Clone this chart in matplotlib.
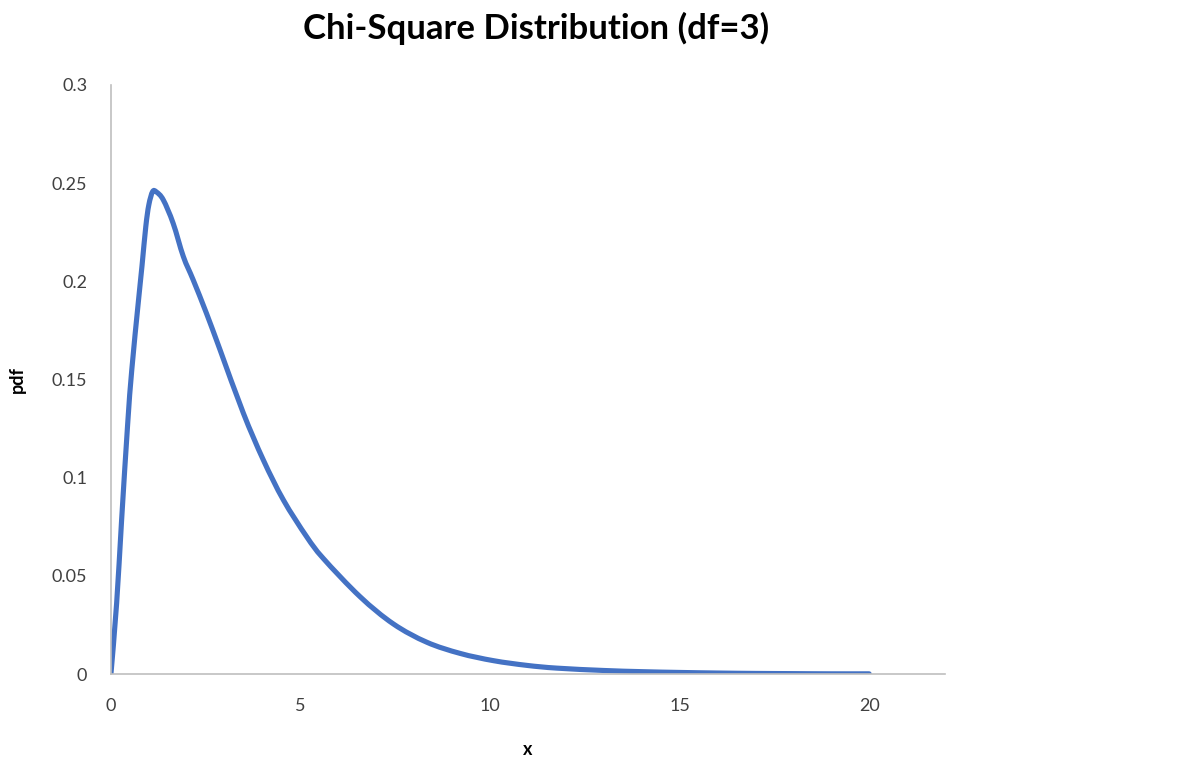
import matplotlib
matplotlib.use("Agg")
import matplotlib.pyplot as plt
from matplotlib.path import Path
from matplotlib.patches import PathPatch

# Values
x_vals = [0, 0.15, 0.28, 0.44, 0.55, 0.72, 0.82, 0.92, 1.0, 1.1, 1.2, 1.38, 1.64,
          1.91, 2.17, 2.52, 2.88, 3.49, 4.02, 4.55, 5.16, 5.6, 6.57, 7.45, 8.33,
          9.21, 10.09, 10.97, 11.76, 13, 14, 15, 16, 17, 18, 19, 20]
pdf_vals = [0, 0.036, 0.078, 0.127, 0.155, 0.189, 0.208, 0.228, 0.239, 0.2457,
            0.2455, 0.2415, 0.2296, 0.2126, 0.2007, 0.1837, 0.165, 0.133, 0.109,
            0.0886, 0.070, 0.0589, 0.0394, 0.0255, 0.0162, 0.0105, 0.0068, 0.0044,
            0.0030, 0.0018, 0.0012, 0.0008, 0.0005, 0.0003, 0.0002, 0.0001, 0.0001]
x_ticks = [0, 5, 10, 15, 20]
y_ticks = [0, 0.05, 0.1, 0.15, 0.2, 0.25, 0.3]
y_tick_labels = ["0", "0.05", "0.1", "0.15", "0.2", "0.25", "0.3"]
title = "Chi-Square Distribution (df=3)"

plt.rcParams['font.family'] = ['Lato', 'DejaVu Sans']


def smooth_path(xs, ys, tension=1.0 / 6.0):
    """Smoothed line (Excel-style) through the data points as cubic Bezier segments."""
    pts = list(zip(xs, ys))
    n = len(pts)
    verts = [pts[0]]
    codes = [Path.MOVETO]
    for i in range(n - 1):
        p0 = pts[i - 1] if i > 0 else pts[i]
        p1 = pts[i]
        p2 = pts[i + 1]
        p3 = pts[i + 2] if i + 2 < n else pts[i + 1]
        c1 = (p1[0] + (p2[0] - p0[0]) * tension, p1[1] + (p2[1] - p0[1]) * tension)
        c2 = (p2[0] - (p3[0] - p1[0]) * tension, p2[1] - (p3[1] - p1[1]) * tension)
        verts += [c1, c2, p2]
        codes += [Path.CURVE4] * 3
    return Path(verts, codes)


fig = plt.figure(figsize=(11.79, 7.58), dpi=100)
ax = fig.add_axes([0.0941, 0.1108, 0.7074, 0.7771])

ax.add_patch(PathPatch(smooth_path(x_vals, pdf_vals), facecolor="none",
                       edgecolor="#4472C4", linewidth=3.7,
                       capstyle="round", joinstyle="round"))

ax.set_xlim(0, 22)
ax.set_ylim(0, 0.3)
ax.set_xticks(x_ticks)
ax.set_xticklabels([str(t) for t in x_ticks])
ax.set_yticks(y_ticks)
ax.set_yticklabels(y_tick_labels)

for side in ["top", "right"]:
    ax.spines[side].set_visible(False)
for side in ["left", "bottom"]:
    ax.spines[side].set_color("#BFBFBF")
    ax.spines[side].set_linewidth(1.2)

ax.tick_params(axis="both", length=0, labelsize=13, labelcolor="#404040")
ax.tick_params(axis="y", pad=17)
ax.tick_params(axis="x", pad=17)

ax.set_xlabel("x", fontsize=13, fontweight="bold", labelpad=20)
ax.set_ylabel("pdf", fontsize=13, fontweight="bold", labelpad=10)
ax.yaxis.set_label_coords(-0.102, 0.5)

fig.text(0.455, 0.962, title, ha="center", va="center",
         fontsize=25, fontweight="bold", color="black")

fig.savefig("out.png", dpi=100, facecolor="white")
